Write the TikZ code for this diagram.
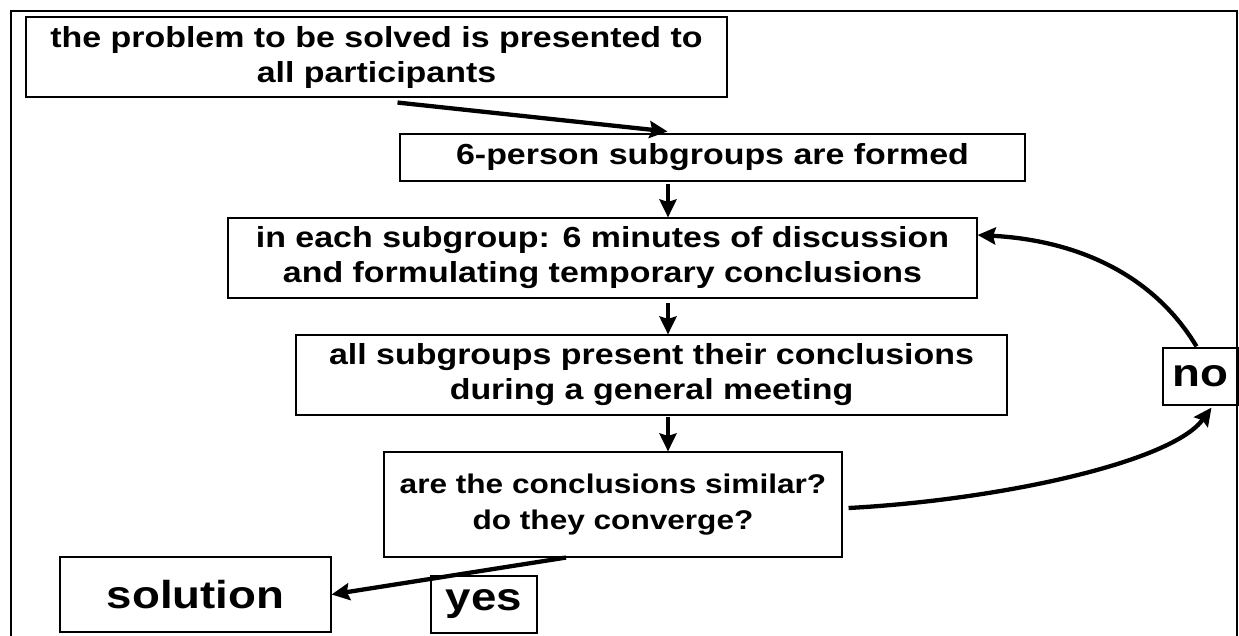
\documentclass[tikz,border=0pt]{standalone}
\usepackage{fontspec}
\setmainfont{Liberation Sans}[FakeStretch=1.17]
\usetikzlibrary{arrows.meta}

\begin{document}
\begin{tikzpicture}[x=1pt,y=-1pt,
    box/.style={draw,line width=1.1pt,inner sep=0pt,align=center,
      font=\fontsize{29}{35}\selectfont\bfseries},
    bigbox/.style={box,font=\fontsize{39}{45}\selectfont\bfseries},
    flow/.style={line width=4.3pt,-{Stealth[length=18pt,width=17pt,inset=2.5pt]}}]
  \useasboundingbox (0,0) rectangle (1239,635);
  \draw[line width=2.4pt] (11,640) -- (11,11) -- (1237,11) -- (1237,640);

  \node[box,minimum width=701,minimum height=80] (prob) at (376.5,57)
    {the problem to be solved is presented to\\all participants};
  \node[box,minimum width=625,minimum height=47] (form) at (712.5,157.5)
    {6-person subgroups are formed};
  \node[box,minimum width=749,minimum height=80] (disc) at (602.5,258)
    {in each subgroup: 6 minutes of discussion\\and formulating temporary conclusions};
  \node[box,minimum width=711,minimum height=80] (pres) at (651.5,375)
    {all subgroups present their conclusions\\during a general meeting};
  \node[box,minimum width=458,minimum height=105,
    font=\fontsize{27}{36}\selectfont\bfseries] (conv) at (613,504.5)
    {are the conclusions similar?\\do they converge?};
  \node[bigbox,minimum width=271,minimum height=75] (sol) at (195.5,594.5) {solution};
  \node[bigbox,minimum width=106,minimum height=57] (yes) at (484,604.5) {yes};
  \node[bigbox,minimum width=75,minimum height=57] (no) at (1200.5,376.5) {no};

  \coordinate (spine) at (668,0);
  \draw[flow] ([shift={(21,5)}]prob.south) -- ([shift={(-45,-2)}]form.north);
  \draw[flow,shorten <=2pt] (form.south -| spine) -- (disc.north -| spine);
  \draw[flow,shorten <=4pt] (disc.south -| spine) -- (pres.north -| spine);
  \draw[flow,shorten <=1pt] (pres.south -| spine) -- (conv.north -| spine);
  \draw[flow] ([shift={(-47,0)}]conv.south) -- (sol.east);
  % the loop back through "no"
  \draw[flow] ([shift={(6,3.5)}]conv.east)
    .. controls +(150,-8) and +(-40,55) .. ([shift={(11,2)}]no.south);
  \draw[flow] ([shift={(-4,-1)}]no.north)
    .. controls +(-45,-75) and +(95,5) .. ([shift={(0,-23)}]disc.east);
\end{tikzpicture}
\end{document}
